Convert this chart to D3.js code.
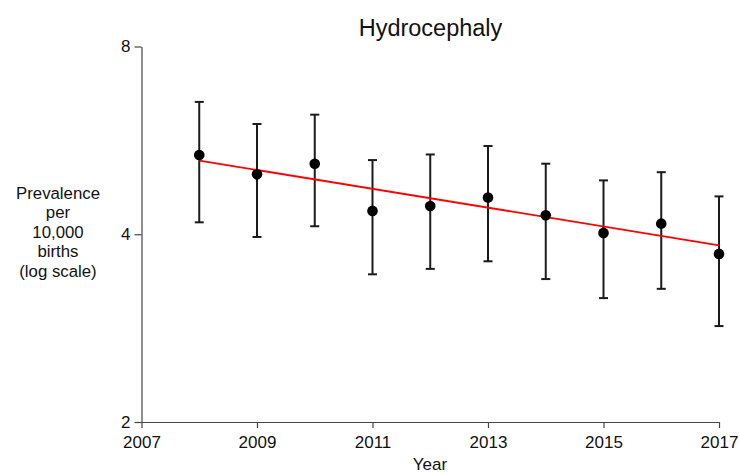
<!DOCTYPE html>
<html>
<head>
<meta charset="utf-8">
<script src="https://cdn.jsdelivr.net/npm/d3@7/dist/d3.min.js"></script>
<style>
  html, body { margin: 0; padding: 0; background: #fff; }
  svg { display: block; font-family: "Liberation Sans", Arial, sans-serif; }
</style>
</head>
<body>
<script>
// Prevalence of hydrocephaly per 10,000 births, with 95% CIs and fitted trend
const years = [2008, 2009, 2010, 2011, 2012, 2013, 2014, 2015, 2016, 2017];
const prevalence = [5.36, 4.99, 5.19, 4.36, 4.44, 4.58, 4.29, 4.02, 4.16, 3.72];
const ciLower = [4.18, 3.96, 4.12, 3.45, 3.52, 3.62, 3.39, 3.16, 3.27, 2.85];
const ciUpper = [6.52, 6.01, 6.22, 5.26, 5.37, 5.54, 5.19, 4.88, 5.03, 4.60];
const trendYears = [2008, 2017];
const trendValues = [5.25, 3.84];
const xTicks = [2007, 2009, 2011, 2013, 2015, 2017];
const yTicks = [2, 4, 8];

const W = 739, H = 473;
const svg = d3.select("body").append("svg").attr("width", W).attr("height", H);

const x = d3.scaleLinear().domain([2007, 2017]).range([141.5, 719]);
const y = d3.scaleLog().base(2).domain([2, 8]).range([422, 46.5]);

// axes
const xAxis = svg.append("g")
  .attr("transform", `translate(0,${y(2)})`)
  .call(d3.axisBottom(x).tickValues(xTicks).tickFormat(d3.format("d")).tickSize(6).tickSizeOuter(0));
const yAxis = svg.append("g")
  .attr("transform", `translate(${x(2007)},0)`)
  .call(d3.axisLeft(y).tickValues(yTicks).tickFormat(d3.format("d")).tickSize(7).tickSizeOuter(0));

[xAxis, yAxis].forEach(g => {
  g.select(".domain").attr("stroke", "#444").attr("stroke-width", 1.2);
  g.selectAll(".tick line").attr("stroke", "#444").attr("stroke-width", 1.2);
  g.selectAll(".tick text").attr("fill", "#111").attr("font-size", 17)
    .attr("font-family", "'Liberation Sans', Arial, sans-serif");
});
xAxis.selectAll(".tick text").attr("dy", 0).attr("y", 26);
yAxis.selectAll(".tick text").attr("x", -11);

// confidence intervals
const data = years.map((yr, i) => ({ yr, v: prevalence[i], lo: ciLower[i], hi: ciUpper[i] }));
const capW = 4.5;
const ci = svg.append("g").attr("stroke", "#1a1a1a").attr("stroke-width", 2);
ci.selectAll("line.stem").data(data).join("line").attr("class", "stem")
  .attr("x1", d => x(d.yr)).attr("x2", d => x(d.yr))
  .attr("y1", d => y(d.lo)).attr("y2", d => y(d.hi));
ci.selectAll("line.capHi").data(data).join("line").attr("class", "capHi")
  .attr("x1", d => x(d.yr) - capW).attr("x2", d => x(d.yr) + capW)
  .attr("y1", d => y(d.hi)).attr("y2", d => y(d.hi));
ci.selectAll("line.capLo").data(data).join("line").attr("class", "capLo")
  .attr("x1", d => x(d.yr) - capW).attr("x2", d => x(d.yr) + capW)
  .attr("y1", d => y(d.lo)).attr("y2", d => y(d.lo));

// fitted trend
svg.append("path")
  .datum(trendYears.map((yr, i) => [yr, trendValues[i]]))
  .attr("fill", "none").attr("stroke", "#ff0000").attr("stroke-width", 1.8)
  .attr("d", d3.line().x(d => x(d[0])).y(d => y(d[1])));

// point estimates
svg.append("g").selectAll("circle").data(data).join("circle")
  .attr("cx", d => x(d.yr)).attr("cy", d => y(d.v)).attr("r", 5.3).attr("fill", "#000");

// title and axis titles
svg.append("text").attr("x", 430.5).attr("y", 36).attr("text-anchor", "middle")
  .attr("font-size", 23.5).attr("fill", "#111").text("Hydrocephaly");
svg.append("text").attr("x", 430).attr("y", 470).attr("text-anchor", "middle")
  .attr("font-size", 17).attr("fill", "#111").text("Year");

// multi-line y-axis title, one text element per line
const yLabel = ["Prevalence", "per", "10,000", "births", "(log scale)"];
svg.append("g").selectAll("text").data(yLabel).join("text")
  .attr("text-anchor", "middle").attr("font-size", 16.8).attr("fill", "#111")
  .attr("x", 58).attr("y", (d, i) => 199 + i * 19.4).text(d => d);
</script>
</body>
</html>
